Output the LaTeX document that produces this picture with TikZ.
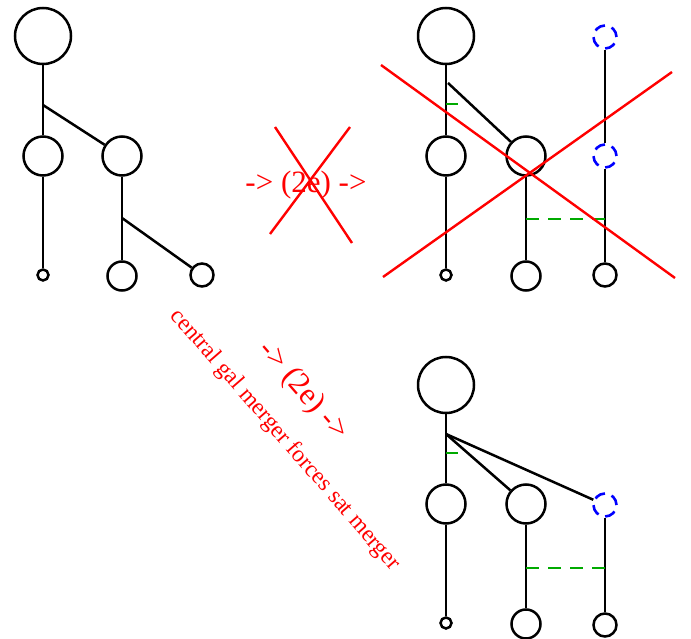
\documentclass[tikz,border=0pt]{standalone}
\usepackage{fontspec}
\setmainfont{Liberation Serif}
\definecolor{mgreen}{RGB}{0,170,0}
\begin{document}
\begin{tikzpicture}[x=1pt,y=-1pt,
  halo/.style={circle,draw,line width=2.5pt,inner sep=0pt,minimum size=#1},
  ghost/.style={circle,draw=blue,line width=2.6pt,dash pattern=on 11pt off 7pt,inner sep=0pt,minimum size=23pt},
  link/.style={line width=2.5pt},
  gdash/.style={draw=mgreen,line width=2.6pt,dash pattern=on 13pt off 9pt},
  cross/.style={draw=red,line width=2.4pt},
  lbl/.style={text=red,inner sep=0pt}]
\useasboundingbox (0,0) rectangle (691,639);
% panel 1
\node[halo=56pt] (A1) at (43,36) {};
\node[halo=39pt] (A2) at (43,156) {};
\node[halo=39pt] (A3) at (122,156) {};
\node[halo=11pt] (A4) at (43,275) {};
\node[halo=29pt] (A5) at (122,276) {};
\node[halo=23pt] (A6) at (202,275) {};
\coordinate (j1) at (43,105);
\coordinate (j2) at (122,218);
\draw[link] (A1) -- (A2);
\draw[link] (A2) -- (A4);
\draw[link] (A3) -- (A5);
\draw[link] (j1) -- (A3);
\draw[link] (j2) -- (A6);
% middle crossed arrow
\coordinate (x1a) at (275,127); \coordinate (x1b) at (352,243);
\coordinate (x2a) at (350,127); \coordinate (x2b) at (270,234);
\node[lbl,font=\fontsize{31}{36}\selectfont] (t1) at (306,185) {-> (2e) ->};
\draw[cross] (x1a) -- (x1b);
\draw[cross] (x2a) -- (x2b);
% panel 2
\node[halo=56pt] (B1) at (446,36) {};
\node[halo=39pt] (B2) at (446,156) {};
\node[halo=39pt] (B3) at (526,156) {};
\node[halo=11pt] (B4) at (446,275) {};
\node[halo=29pt] (B5) at (526,276) {};
\node[halo=23pt] (B6) at (605,275) {};
\node[ghost] (G1) at (605,37) {};
\node[ghost] (G2) at (605,156) {};
\coordinate (j3) at (448,83);
\draw[link] (B1) -- (B2);
\draw[link] (B2) -- (B4);
\draw[link] (B3) -- (B5);
\draw[link] (G1) -- (G2);
\draw[link] (G2) -- (B6);
\draw[link] (j3) -- (B3);
\coordinate (g1a) at (446,104); \coordinate (g1b) at (458,104);
\coordinate (g2a) at (526,219); \coordinate (g2b) at (605,219);
\draw[gdash] (g1a) -- (g1b);
\draw[gdash] (g2a) -- (g2b);
\coordinate (r1a) at (381,65); \coordinate (r1b) at (675,278);
\coordinate (r2a) at (383,277); \coordinate (r2b) at (672,72);
\draw[cross] (r1a) -- (r1b);
\draw[cross] (r2a) -- (r2b);
% diagonal labels
\node[lbl,font=\fontsize{31}{36}\selectfont,rotate=-49] (t2) at (303,391) {-> (2e) ->};
\node[lbl,font=\fontsize{23.5}{28}\selectfont,rotate=-49] (t3) at (285,440) {central gal merger forces sat merger};
% panel 3
\node[halo=56pt] (C1) at (446,385) {};
\node[halo=39pt] (C2) at (446,504) {};
\node[halo=39pt] (C3) at (526,504) {};
\node[halo=11pt] (C4) at (446,623) {};
\node[halo=29pt] (C5) at (526,624) {};
\node[halo=23pt] (C6) at (605,625) {};
\node[ghost] (G3) at (605,505) {};
\coordinate (j4) at (446,434);
\draw[link] (C1) -- (C2);
\draw[link] (C2) -- (C4);
\draw[link] (C3) -- (C5);
\draw[link] (G3) -- (C6);
\draw[link] (j4) -- (C3);
\draw[link] (j4) -- (G3);
\coordinate (g3a) at (446,453); \coordinate (g3b) at (458,453);
\coordinate (g4a) at (526,568); \coordinate (g4b) at (605,568);
\draw[gdash] (g3a) -- (g3b);
\draw[gdash] (g4a) -- (g4b);
\end{tikzpicture}
\end{document}
